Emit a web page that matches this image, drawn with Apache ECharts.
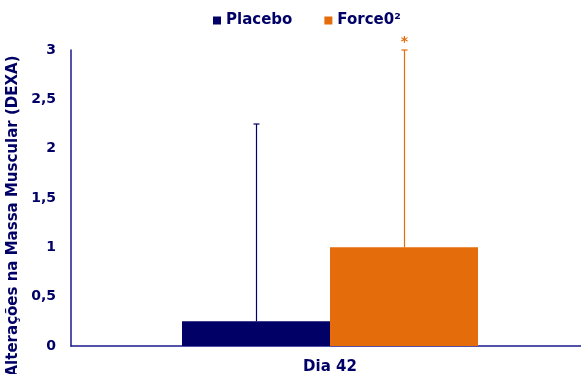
<!DOCTYPE html>
<html>
<head>
<meta charset="utf-8">
<script src="https://cdn.jsdelivr.net/npm/echarts@6/dist/echarts.min.js"></script>
<style>
html, body { margin: 0; padding: 0; background: #fff; }
#chart { width: 581px; height: 374px; }
</style>
</head>
<body>
<div id="chart"></div>
<script>
// dados
const categories = ['Dia 42'];
const seriesNames = ['Placebo', 'Force0²'];
const means = [0.25, 1.0];
const errorTops = [2.25, 3.0];
const sigMarks = ['', '*'];
const yTicks = [0, 0.5, 1, 1.5, 2, 2.5, 3];

const colors = ['#000066', '#E46C0A'];
const navy = '#000066';
const barWidth = 148;
const font = 'DejaVu Sans';

let chart = echarts.init(document.getElementById('chart'));

// barras
let barSeries = seriesNames.map((name, i) => ({
    name: name,
    type: 'bar',
    data: [means[i]],
    barWidth: barWidth,
    barGap: '0%',
    itemStyle: { color: colors[i] },
    z: 2
}));

// barras de erro (linha + traço) e asterisco
let errSeries = seriesNames.map((name, i) => ({
    name: name,
    type: 'custom',
    data: [[0, means[i], errorTops[i]]],
    z: 3,
    renderItem: function (params, api) {
        let off = (i === 0 ? -1 : 1) * barWidth / 2;
        let lo = api.coord([api.value(0), api.value(1)]);
        let hi = api.coord([api.value(0), api.value(2)]);
        let x = Math.round(lo[0] + off) + 0.5;
        let children = [
            { type: 'line', shape: { x1: x, y1: lo[1], x2: x, y2: hi[1] }, style: { stroke: colors[i], lineWidth: 1.2 } },
            { type: 'line', shape: { x1: x - 3, y1: hi[1], x2: x + 3, y2: hi[1] }, style: { stroke: colors[i], lineWidth: 1.2 } }
        ];
        if (sigMarks[i]) {
            children.push({
                type: 'text',
                style: {
                    x: x, y: hi[1] - 1, text: sigMarks[i],
                    fill: colors[i], font: 'bold 14px ' + font,
                    align: 'center', verticalAlign: 'bottom'
                }
            });
        }
        return { type: 'group', children: children };
    }
}));

let option = {
    animation: false,
    color: colors,
    legend: {
        data: seriesNames,
        top: 8,
        left: 208,
        itemWidth: 8,
        itemHeight: 8,
        itemGap: 32,
        icon: 'rect',
        textStyle: { color: navy, fontFamily: font, fontWeight: 'bold', fontSize: 15 }
    },
    grid: { left: 71, right: -8, top: 50, bottom: 28, containLabel: false, outerBoundsMode: 'none' },
    xAxis: {
        type: 'category',
        data: categories,
        axisLine: { lineStyle: { color: '#1a1a8c', width: 1.5 } },
        axisTick: { show: false },
        axisLabel: { color: navy, fontFamily: font, fontWeight: 'bold', fontSize: 15, margin: 14 }
    },
    yAxis: {
        type: 'value',
        min: 0,
        max: 3,
        interval: 0.5,
        name: 'Alterações na Massa Muscular (DEXA)',
        nameLocation: 'middle',
        nameGap: 50,
        nameRotate: 90,
        nameTextStyle: { color: navy, fontFamily: font, fontWeight: 'bold', fontSize: 15, padding: [0, 36, 0, 0] },
        splitLine: { show: false },
        axisLine: { show: true, lineStyle: { color: '#1a1a8c', width: 1.5 } },
        axisTick: { show: false },
        axisLabel: {
            color: navy, fontFamily: font, fontWeight: 'bold', fontSize: 14, margin: 15,
            formatter: v => yTicks.includes(v) ? String(v).replace('.', ',') : ''
        }
    },
    series: barSeries.concat(errSeries)
};

chart.setOption(option);
</script>
</body>
</html>
